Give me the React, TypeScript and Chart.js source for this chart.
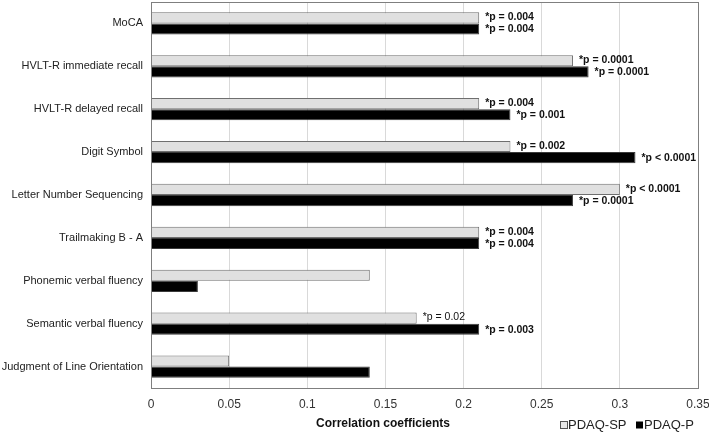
import React, { useEffect, useRef } from "react";
import { Chart, registerables } from "chart.js";

Chart.register(...registerables);

const categories = [
  "MoCA",
  "HVLT-R immediate recall",
  "HVLT-R delayed recall",
  "Digit Symbol",
  "Letter Number Sequencing",
  "Trailmaking B - A",
  "Phonemic verbal fluency",
  "Semantic verbal fluency",
  "Judgment of Line Orientation",
];
const pdaqSP = [0.21, 0.27, 0.21, 0.23, 0.3, 0.21, 0.14, 0.17, 0.05];
const pdaqP = [0.21, 0.28, 0.23, 0.31, 0.27, 0.21, 0.03, 0.21, 0.14];
const spLabels = ["*p = 0.004", "*p = 0.0001", "*p = 0.004", "*p = 0.002", "*p < 0.0001", "*p = 0.004", "", "*p = 0.02", ""];
const spBold = [true, true, true, true, true, true, false, false, false];
const pLabels = ["*p = 0.004", "*p = 0.0001", "*p = 0.001", "*p < 0.0001", "*p = 0.0001", "*p = 0.004", "", "*p = 0.003", ""];
const pBold = [true, true, true, true, true, true, false, true, false];
const xTicks = [0, 0.05, 0.1, 0.15, 0.2, 0.25, 0.3, 0.35];
const seriesNames = ["PDAQ-SP", "PDAQ-P"];
const axisTitle = "Correlation coefficients";

const FONT = "'Liberation Sans', Arial, sans-serif";

const overlay = {
  id: "overlay",
  afterDatasetsDraw(chart: any) {
    const ctx = chart.ctx;
    const area = chart.chartArea;
    ctx.save();
    // plot border
    ctx.strokeStyle = "#7f7f7f";
    ctx.lineWidth = 1;
    ctx.strokeRect(Math.round(area.left) + 0.5, Math.round(area.top) + 0.5, Math.round(area.right - area.left), Math.round(area.bottom - area.top));
    // data labels
    ctx.textBaseline = "middle";
    ctx.textAlign = "left";
    ctx.fillStyle = "#111";
    const sets = [
      { labels: spLabels, bold: spBold },
      { labels: pLabels, bold: pBold },
    ];
    sets.forEach((s, di) => {
      const meta = chart.getDatasetMeta(di);
      meta.data.forEach((bar: any, i: number) => {
        const t = s.labels[i];
        if (!t) return;
        ctx.font = (s.bold[i] ? "bold " : "") + "10.5px " + FONT;
        ctx.fillText(t, bar.x + 6, bar.y + (di === 0 ? -0.5 : 0.5));
      });
    });
    // axis title
    ctx.font = "bold 12px " + FONT;
    ctx.textAlign = "center";
    ctx.fillStyle = "#111";
    ctx.fillText(axisTitle, 383, 424);
    // legend
    ctx.font = "13px " + FONT;
    ctx.textAlign = "left";
    const ly = 425;
    ctx.fillStyle = "#e8e8e8";
    ctx.fillRect(560.5, ly - 3.5, 7, 7);
    ctx.strokeStyle = "#555";
    ctx.strokeRect(560.5, ly - 3.5, 7, 7);
    ctx.fillStyle = "#222";
    ctx.fillText(seriesNames[0], 568, ly);
    ctx.fillStyle = "#000";
    ctx.fillRect(636, ly - 3.5, 7, 7);
    ctx.fillStyle = "#222";
    ctx.fillText(seriesNames[1], 644, ly);
    ctx.restore();
  },
};

export default function App() {
  const ref = useRef<HTMLCanvasElement>(null);
  useEffect(() => {
    document.body.style.margin = "0";
    const chart = new Chart(ref.current!, {
      type: "bar",
      data: {
        labels: categories,
        datasets: [
          {
            label: seriesNames[0],
            data: pdaqSP,
            backgroundColor: "#e0e0e0",
            borderColor: "#6f6f6f",
            borderWidth: 1,
            categoryPercentage: 0.52,
            barPercentage: 1.0,
          },
          {
            label: seriesNames[1],
            data: pdaqP,
            backgroundColor: "#000000",
            borderColor: "#3a3a3a",
            borderWidth: 1,
            categoryPercentage: 0.52,
            barPercentage: 1.0,
          },
        ],
      },
      options: {
        indexAxis: "y",
        animation: false,
        responsive: false,
        maintainAspectRatio: false,
        layout: { padding: { top: 2, right: 11, left: 0, bottom: 0 } },
        plugins: {
          legend: { display: false },
          tooltip: { enabled: false },
        },
        scales: {
          x: {
            min: 0,
            max: 0.35,
            afterBuildTicks: (scale: any) => {
              scale.ticks = xTicks.map((v) => ({ value: v }));
            },
            afterFit: (scale: any) => {
              scale.height = 45;
              scale.paddingLeft = 0;
              scale.paddingRight = 0;
            },
            grid: { color: "#d9d9d9", drawTicks: false, lineWidth: 1 },
            border: { display: false },
            ticks: {
              padding: 9,
              color: "#333",
              font: { family: FONT, size: 12 },
              callback: (v: any) => String(Number(v)),
            },
          },
          y: {
            afterFit: (scale: any) => {
              scale.width = 151;
              scale.paddingTop = 0;
              scale.paddingBottom = 0;
            },
            grid: { display: false, drawTicks: false },
            border: { display: false },
            ticks: {
              padding: 8,
              color: "#222",
              font: { family: FONT, size: 11 },
            },
          },
        },
      },
      plugins: [overlay],
    });
    return () => chart.destroy();
  }, []);
  return (
    <div style={{ width: 709, height: 433, background: "#fff" }}>
      <canvas ref={ref} width={709} height={433} style={{ display: "block" }} />
    </div>
  );
}
